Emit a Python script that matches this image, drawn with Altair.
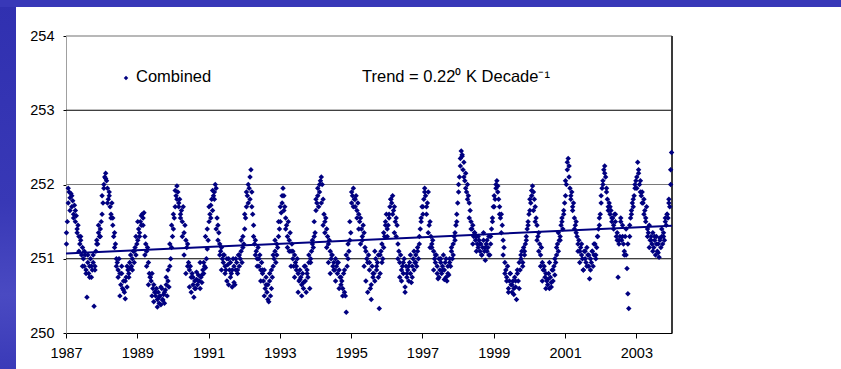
import altair as alt
import pandas as pd

# Combined temperature series (K). Main readings: 40 per year, Jan -> Dec
y1987 = [251.2, 251.5, 251.75, 251.9, 251.82, 251.88, 251.7, 251.78, 251.6, 251.72,
         251.5, 251.58, 251.4, 251.45, 251.3, 251.2, 251.25, 251.05, 251.15, 251.0,
         250.9, 251.05, 250.85, 250.48, 250.95, 250.8, 250.9, 251.0, 250.75, 250.85,
         250.95, 250.36, 250.9, 251.1, 251.25, 251.2, 251.35, 251.3, 251.4, 251.5]
y1988 = [251.6, 251.75, 251.95, 252.1, 252.15, 252.05, 251.95, 251.8, 251.85, 251.7,
         251.6, 251.75, 251.55, 251.3, 251.35, 251.2, 251.0, 250.95, 250.85, 251.0,
         250.8, 250.65, 250.9, 250.6, 250.7, 250.55, 250.46, 250.75, 250.62, 250.85,
         250.8, 250.95, 250.88, 250.9, 251.0, 251.1, 250.95, 251.15, 251.05, 251.2]
y1989 = [251.25, 251.4, 251.35, 251.5, 251.45, 251.6, 251.55, 251.62, 251.3, 251.2,
         251.1, 251.15, 250.95, 250.8, 250.75, 250.7, 250.8, 250.6, 250.65, 250.55,
         250.5, 250.6, 250.45, 250.55, 250.4, 250.5, 250.38, 250.6, 250.45, 250.52,
         250.4, 250.58, 250.65, 250.5, 250.7, 250.62, 250.9, 251.0, 251.15, 251.3]
y1990 = [251.4, 251.55, 251.7, 251.85, 251.98, 251.9, 251.75, 251.8, 251.6, 251.65,
         251.5, 251.7, 251.35, 251.45, 251.25, 251.15, 251.2, 250.95, 250.85, 250.9,
         250.75, 250.8, 250.65, 250.48, 250.7, 250.6, 250.72, 250.65, 250.78, 250.7,
         250.6, 250.75, 250.68, 250.85, 250.8, 250.9, 250.88, 251.0, 251.13, 251.25]
y1991 = [251.5, 251.6, 251.72, 251.8, 251.65, 251.85, 251.9, 252.0, 251.95, 251.55,
         251.45, 251.35, 251.2, 251.1, 251.15, 251.0, 250.95, 251.05, 250.9, 250.85,
         251.0, 250.92, 250.65, 250.85, 250.95, 250.8, 250.62, 251.0, 250.9, 250.65,
         250.85, 250.95, 250.8, 251.05, 250.9, 251.0, 251.1, 250.95, 251.15, 251.2]
y1992 = [251.4, 251.55, 251.7, 251.85, 251.75, 251.95, 251.8, 252.2, 251.9, 251.6,
         251.3, 251.2, 251.25, 251.1, 251.0, 251.15, 250.9, 251.05, 250.85, 250.95,
         250.8, 250.7, 250.85, 250.6, 250.75, 250.55, 250.65, 250.42, 250.7, 250.5,
         250.6, 250.75, 250.9, 251.0, 251.1, 250.95, 251.2, 251.15, 251.3, 251.4]
y1993 = [251.5, 251.62, 251.75, 251.95, 251.85, 251.7, 251.55, 251.45, 251.3, 251.5,
         251.25, 251.35, 251.1, 251.2, 251.0, 250.9, 251.05, 250.95, 250.85, 251.0,
         250.8, 250.7, 250.85, 250.75, 250.65, 250.8, 250.6, 250.9, 250.7, 250.55,
         250.85, 250.75, 250.95, 250.6, 251.0, 251.1, 251.2, 251.15, 251.3, 251.35]
y1994 = [251.65, 251.75, 251.85, 251.7, 251.9, 252.05, 252.1, 252.0, 251.8, 251.6,
         251.5, 251.55, 251.4, 251.3, 251.2, 251.25, 251.1, 251.0, 251.05, 250.9,
         250.95, 250.85, 251.0, 250.9, 250.8, 250.95, 250.85, 250.75, 250.65, 250.7,
         250.6, 250.8, 250.55, 250.5, 250.28, 250.9, 251.0, 251.1, 251.25, 251.35]
y1995 = [251.75, 251.85, 251.95, 251.8, 251.7, 251.85, 251.65, 251.75, 251.6, 251.5,
         251.55, 251.4, 251.3, 251.45, 251.35, 251.15, 251.1, 251.0, 250.95, 251.05,
         250.85, 250.6, 250.45, 250.9, 250.75, 250.8, 250.7, 251.0, 250.85, 250.95,
         251.05, 250.33, 250.8, 251.1, 250.95, 251.0, 251.15, 251.3, 251.45, 251.6]
y1996 = [251.3, 251.45, 251.55, 251.7, 251.8, 251.75, 251.85, 251.65, 251.7, 251.5,
         251.55, 251.45, 251.2, 251.1, 250.95, 251.05, 250.85, 250.9, 250.8, 251.0,
         250.55, 250.9, 250.75, 250.85, 250.7, 250.95, 250.8, 250.68, 250.9, 251.0,
         250.85, 250.95, 251.05, 250.9, 251.1, 251.0, 251.2, 251.4, 251.55, 251.7]
y1997 = [251.6, 251.8, 251.95, 251.85, 251.7, 251.75, 251.9, 251.45, 251.5, 251.3,
         251.2, 251.25, 251.1, 251.0, 250.95, 251.05, 250.9, 250.73, 251.0, 250.85,
         250.95, 250.8, 250.9, 251.05, 250.85, 250.95, 250.75, 250.7, 250.9, 250.78,
         251.0, 250.9, 251.1, 251.0, 251.2, 251.3, 251.25, 251.45, 251.6, 251.75]
y1998 = [251.9, 252.1, 252.25, 252.45, 252.38, 252.2, 252.3, 252.05, 252.15, 251.9,
         252.0, 251.85, 251.75, 251.65, 251.5, 251.4, 251.45, 251.3, 251.35, 251.25,
         251.3, 251.2, 251.15, 251.25, 251.1, 251.2, 251.05, 251.15, 251.25, 251.1,
         250.98, 251.2, 251.1, 251.15, 251.3, 251.05, 251.2, 251.4, 251.55, 251.7]
y1999 = [251.7, 251.8, 251.95, 252.05, 251.98, 251.8, 251.7, 251.55, 251.6, 251.45,
         251.25, 251.15, 250.95, 250.85, 250.75, 250.9, 250.6, 250.7, 250.8, 250.65,
         250.55, 250.7, 250.6, 250.75, 250.62, 250.45, 250.8, 250.7, 250.95, 250.85,
         251.0, 251.1, 250.95, 251.15, 251.05, 251.2, 251.3, 251.4, 251.5, 251.6]
y2000 = [251.65, 251.75, 251.85, 251.98, 251.9, 251.8, 251.7, 251.55, 251.45, 251.3,
         251.35, 251.2, 251.05, 251.15, 250.95, 250.85, 250.9, 250.75, 250.8, 250.7,
         250.65, 250.8, 250.6, 250.75, 250.62, 250.85, 250.7, 250.9, 250.78, 250.95,
         251.05, 251.2, 251.1, 251.25, 251.3, 251.45, 251.55, 251.4, 251.6, 251.75]
y2001 = [251.85, 252.0, 252.2, 252.35, 252.25, 251.95, 251.8, 251.9, 251.7, 251.75,
         251.55, 251.45, 251.5, 251.3, 251.2, 251.25, 251.1, 251.15, 251.05, 251.0,
         250.85, 251.1, 251.0, 250.95, 251.15, 251.05, 250.9, 250.73, 251.0, 250.95,
         251.1, 250.9, 251.05, 251.2, 251.0, 251.15, 251.3, 251.4, 251.55, 251.6]
y2002 = [251.85, 251.95, 252.0, 252.2, 252.25, 252.1, 251.9, 251.8, 251.7, 251.75,
         251.6, 251.65, 251.5, 251.55, 251.45, 251.6, 251.5, 251.3, 251.25, 250.75,
         251.2, 251.3, 251.5, 251.25, 251.45, 251.2, 251.05, 251.3, 251.05, 250.87,
         250.53, 250.33, 251.3, 251.55, 251.6, 251.75, 251.7, 251.85, 252.0, 252.05]
y2003 = [252.1, 252.3, 252.2, 252.0, 252.05, 251.85, 251.9, 251.75, 251.8, 251.65,
         251.55, 251.7, 251.4, 251.35, 251.45, 251.25, 251.3, 251.2, 251.35, 251.15,
         251.25, 251.05, 251.3, 251.1, 251.2, 251.02, 251.28, 251.15, 251.3, 251.2,
         251.35, 251.25, 251.5, 251.45, 251.6, 251.55, 251.75, 251.7, 252.2, 252.43]

# Additional readings in between: 20 per year, Jan -> Dec
z1987 = [251.35, 251.95, 251.65, 251.85, 251.55, 251.65, 251.35, 251.1, 251.3, 250.9,
         251.1, 250.8, 251.05, 250.75, 250.9, 251.05, 250.85, 251.2, 251.45, 251.3]
z1988 = [251.85, 252.0, 252.08, 251.75, 251.9, 251.55, 251.45, 251.15, 250.9, 250.75,
         250.5, 250.8, 250.58, 250.7, 250.9, 250.75, 251.05, 250.85, 251.1, 251.3]
z1989 = [251.5, 251.3, 251.58, 251.45, 251.05, 250.9, 250.65, 250.75, 250.5, 250.42,
         250.55, 250.35, 250.48, 250.62, 250.44, 250.55, 250.75, 250.85, 251.2, 251.45]
z1990 = [251.6, 251.92, 251.8, 251.7, 251.55, 251.3, 251.05, 250.8, 250.9, 250.62,
         250.55, 250.75, 250.6, 250.82, 250.7, 250.95, 250.78, 250.95, 251.3, 251.4]
z1991 = [251.7, 251.55, 251.92, 251.8, 251.4, 251.25, 251.05, 250.85, 251.05, 250.8,
         250.7, 251.0, 250.75, 250.85, 250.68, 251.0, 250.85, 251.05, 251.25, 251.3]
z1992 = [251.6, 251.9, 252.0, 252.1, 251.7, 251.45, 251.05, 250.9, 251.0, 250.7,
         250.85, 250.5, 250.65, 250.45, 250.8, 250.85, 251.05, 251.25, 251.05, 251.5]
z1993 = [251.7, 251.85, 251.65, 251.4, 251.15, 251.1, 250.9, 251.1, 250.75, 250.9,
         250.55, 250.72, 250.5, 250.68, 250.9, 250.8, 251.05, 250.95, 251.25, 251.5]
z1994 = [251.8, 251.95, 252.0, 251.75, 251.45, 251.35, 251.15, 250.95, 250.8, 251.05,
         250.85, 250.7, 250.95, 250.6, 250.75, 250.5, 250.85, 251.05, 251.2, 251.5]
z1995 = [251.9, 251.7, 251.8, 251.55, 251.4, 251.2, 251.25, 250.9, 250.7, 250.55,
         250.95, 250.65, 250.8, 251.1, 250.9, 250.75, 251.05, 251.2, 251.35, 251.5]
z1996 = [251.4, 251.6, 251.8, 251.6, 251.35, 251.3, 251.0, 250.75, 250.7, 250.95,
         250.62, 250.8, 250.9, 251.05, 250.75, 251.1, 250.95, 251.15, 251.3, 251.5]
z1997 = [251.7, 251.9, 251.6, 251.35, 251.15, 251.15, 250.85, 251.05, 250.8, 250.75,
         251.0, 250.85, 250.72, 251.0, 250.8, 250.95, 251.15, 251.05, 251.35, 251.5]
z1998 = [252.0, 252.35, 252.4, 252.1, 251.95, 251.8, 251.55, 251.4, 251.2, 251.35,
         251.1, 251.3, 251.2, 251.05, 251.35, 251.15, 251.25, 251.05, 251.3, 251.5]
z1999 = [251.85, 252.0, 251.9, 251.6, 251.35, 251.05, 250.8, 250.7, 250.55, 250.8,
         250.65, 250.52, 250.7, 250.85, 250.6, 251.05, 250.9, 251.1, 251.25, 251.45]
z2000 = [251.8, 251.92, 251.65, 251.5, 251.25, 251.1, 250.9, 250.7, 250.85, 250.6,
         250.72, 250.95, 250.68, 250.85, 251.0, 251.15, 251.35, 251.25, 251.5, 251.65]
z2001 = [252.05, 252.3, 252.1, 251.85, 251.65, 251.4, 251.35, 251.1, 250.95, 251.2,
         250.85, 251.1, 250.9, 251.05, 250.85, 251.1, 251.2, 251.05, 251.3, 251.45]
z2002 = [251.75, 252.05, 252.15, 251.95, 251.65, 251.7, 251.55, 251.4, 251.6, 251.35,
         251.25, 251.55, 251.3, 251.1, 251.4, 251.2, 251.45, 251.65, 251.8, 251.95]
z2003 = [251.95, 252.15, 251.9, 251.75, 251.6, 251.5, 251.3, 251.15, 251.25, 251.1,
         251.3, 251.2, 251.08, 251.25, 251.4, 251.3, 251.55, 251.6, 251.8, 252.0]

main_by_year = {
    1987: y1987, 1988: y1988, 1989: y1989, 1990: y1990, 1991: y1991, 1992: y1992,
    1993: y1993, 1994: y1994, 1995: y1995, 1996: y1996, 1997: y1997, 1998: y1998,
    1999: y1999, 2000: y2000, 2001: y2001, 2002: y2002, 2003: y2003,
}
extra_by_year = {
    1987: z1987, 1988: z1988, 1989: z1989, 1990: z1990, 1991: z1991, 1992: z1992,
    1993: z1993, 1994: z1994, 1995: z1995, 1996: z1996, 1997: z1997, 1998: z1998,
    1999: z1999, 2000: z2000, 2001: z2001, 2002: z2002, 2003: z2003,
}

# Linear trend: 0.22 K per decade
trend_per_year = 0.022
trend_start_value = 251.07
x_start, x_end = 1987, 2004

x_ticks = [1987, 1989, 1991, 1993, 1995, 1997, 1999, 2001, 2003]
y_ticks = [250, 251, 252, 253, 254]
grid_levels = [251, 252, 253]
grid_colors = ["#000000", "#7a7a7a", "#000000"]

rows = []
for yr, vals in main_by_year.items():
    n = len(vals)
    for i, v in enumerate(vals):
        rows.append({"t": yr + (i + 0.5) / n, "temp": v})
for yr, vals in extra_by_year.items():
    n = len(vals)
    for i, v in enumerate(vals):
        rows.append({"t": yr + (i + 0.25) / n, "temp": v})
obs = pd.DataFrame(rows)

trend = pd.DataFrame({
    "t": [x_start, x_end],
    "temp": [trend_start_value, trend_start_value + trend_per_year * (x_end - x_start)],
})

FONT = "Liberation Sans"
NAVY = "#000080"
W, H = 606, 297
PAD_L, PAD_T, PAD_R, PAD_B = 66, 36, 169, 36

x_scale = alt.Scale(domain=[x_start, x_end], nice=False, zero=False)
y_scale = alt.Scale(domain=[250, 254], nice=False, zero=False)

x_axis = alt.Axis(values=x_ticks, format="d", title=None, grid=False,
                  tickSize=5, tickColor="#000000", domainColor="#000000",
                  labelFont=FONT, labelFontSize=14.5, labelColor="#000000",
                  labelPadding=8, labelFlush=False)
y_axis = alt.Axis(values=y_ticks, format="d", title=None, grid=False,
                  tickSize=3, tickColor="#000000", domainColor="#a0a0a0",
                  labelFont=FONT, labelFontSize=14.5, labelColor="#000000",
                  labelPadding=9)

one = pd.DataFrame({"k": [0]})

# Slide backdrop: blue strips along the left and top edges
side_fill = alt.LinearGradient(
    gradient="linear", x1=0, x2=0, y1=0, y2=1,
    stops=[alt.GradientStop(offset=0, color="#3030b0"),
           alt.GradientStop(offset=0.55, color="#3838b6"),
           alt.GradientStop(offset=0.8, color="#4a4ac2"),
           alt.GradientStop(offset=1, color="#3a3ab8")])
left_strip = alt.Chart(one).mark_rect(color=side_fill).encode(
    x=alt.value(-PAD_L), x2=alt.value(16 - PAD_L),
    y=alt.value(-PAD_T), y2=alt.value(H + PAD_B))
top_strip = alt.Chart(one).mark_rect(color="#3838b8").encode(
    x=alt.value(-PAD_L), x2=alt.value(W + PAD_R),
    y=alt.value(-PAD_T), y2=alt.value(7 - PAD_T))

grid = alt.Chart(pd.DataFrame({"lvl": grid_levels, "c": grid_colors})).mark_rule(
    strokeWidth=1.2).encode(
    y=alt.Y("lvl:Q", scale=y_scale, axis=y_axis),
    color=alt.Color("c:N", scale=None))

top_edge = alt.Chart(one).mark_rule(color="#a0a0a0", strokeWidth=1.5).encode(
    y=alt.value(0), x=alt.value(0), x2=alt.value(W))
right_edge = alt.Chart(one).mark_rule(color="#3a3a3a", strokeWidth=2).encode(
    x=alt.value(W), y=alt.value(0), y2=alt.value(H))

points = alt.Chart(obs).mark_point(shape="diamond", filled=True, size=30,
                                   color=NAVY, opacity=1).encode(
    x=alt.X("t:Q", scale=x_scale, axis=x_axis),
    y=alt.Y("temp:Q", scale=y_scale, axis=y_axis))

trend_line = alt.Chart(trend).mark_line(color=NAVY, strokeWidth=2).encode(
    x=alt.X("t:Q", scale=x_scale),
    y=alt.Y("temp:Q", scale=y_scale))

legend_marker = alt.Chart(one).mark_point(shape="diamond", filled=True, size=20,
                                          color=NAVY, opacity=1).encode(
    x=alt.value(60), y=alt.value(42))
legend_text = alt.Chart(one).mark_text(text="Combined", font=FONT, fontSize=16.5,
                                       align="left", baseline="middle",
                                       color="#000000").encode(
    x=alt.value(70), y=alt.value(41))
trend_text = alt.Chart(one).mark_text(text="Trend = 0.22\u2070 K Decade\u207b\u00b9",
                                      font=FONT, fontSize=16.5, align="left",
                                      baseline="middle", color="#000000").encode(
    x=alt.value(296), y=alt.value(41))

chart = alt.layer(
    left_strip, top_strip, grid, top_edge, right_edge,
    points, trend_line, legend_marker, legend_text, trend_text,
).properties(
    width=W, height=H,
    autosize=alt.AutoSizeParams(type="none"),
    padding={"left": PAD_L, "top": PAD_T, "right": PAD_R, "bottom": PAD_B},
    background="#ffffff",
).configure_view(stroke=None)

chart.save("out.html", embed_options={"renderer": "svg", "actions": False})
